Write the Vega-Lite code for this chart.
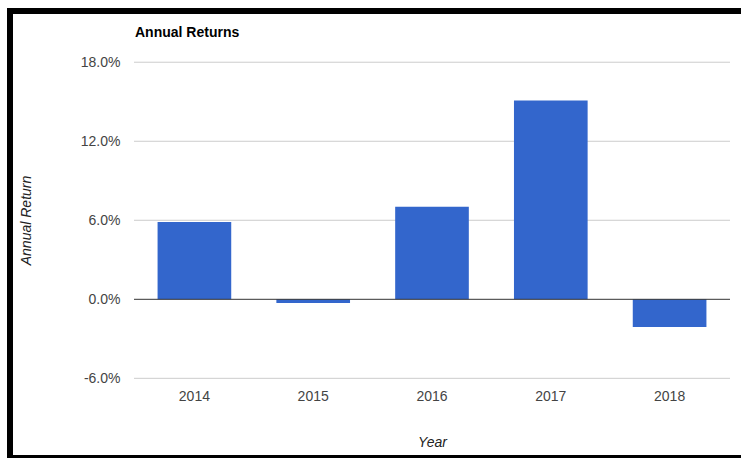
{
  "$schema": "https://vega.github.io/schema/vega-lite/v6.json",
  "autosize": "none",
  "padding": {"left": 10, "top": 11, "right": 0, "bottom": 0},
  "width": 734,
  "height": 447,
  "background": "white",
  "title": {
    "text": "Annual Returns",
    "anchor": "start",
    "frame": "group",
    "dx": 125,
    "offset": -40,
    "baseline": "alphabetic",
    "font": "Liberation Sans",
    "fontSize": 14,
    "fontWeight": "bold",
    "color": "#000000"
  },
  "datasets": {
    "returns": [
      {"year": "2014", "ret": 0.0587},
      {"year": "2015", "ret": -0.0028},
      {"year": "2016", "ret": 0.0703},
      {"year": "2017", "ret": 0.151},
      {"year": "2018", "ret": -0.021}
    ],
    "grid": [
      {"v": -0.06},
      {"v": 0.06},
      {"v": 0.12},
      {"v": 0.18}
    ]
  },
  "config": {
    "view": {"stroke": "#000000", "strokeWidth": 6},
    "font": "Liberation Sans"
  },
  "resolve": {"scale": {"x": "independent"}},
  "layer": [
    {
      "data": {"name": "grid"},
      "mark": {"type": "rule", "color": "#cccccc", "strokeWidth": 1},
      "encoding": {
        "x": {"datum": 0, "type": "quantitative", "scale": {"domain": [0, 1], "range": [124, 720]}, "axis": null},
        "x2": {"datum": 1},
        "y": {"field": "v", "type": "quantitative", "scale": {"domain": [-0.1205, 0.2189], "nice": false, "zero": false}}
      }
    },
    {
      "data": {"name": "returns"},
      "mark": {"type": "bar", "color": "#3366cc"},
      "encoding": {
        "x": {
          "field": "year",
          "type": "nominal",
          "scale": {"range": [125, 719], "paddingInner": 0.38, "paddingOuter": 0.19},
          "axis": {
            "title": "Year",
            "orient": "bottom",
            "offset": -80,
            "labelAngle": 0,
            "ticks": false,
            "domain": false,
            "grid": false,
            "labelPadding": 11,
            "labelFontSize": 14,
            "labelColor": "#444444",
            "labelFont": "Liberation Sans",
            "titleFont": "Liberation Sans",
            "titleFontSize": 14,
            "titleFontStyle": "italic",
            "titleFontWeight": "normal",
            "titleColor": "#222222",
            "titleBaseline": "alphabetic",
            "titleY": 68
          }
        },
        "y": {
          "field": "ret",
          "type": "quantitative",
          "scale": {"domain": [-0.1205, 0.2189], "nice": false, "zero": false},
          "axis": {
            "title": "Annual Return",
            "orient": "left",
            "offset": -124,
            "values": [-0.06, 0, 0.06, 0.12, 0.18],
            "format": ".1%",
            "labelExpr": "replace(format(datum.value, '.1%'), '\u2212', '-')",
            "ticks": false,
            "domain": false,
            "grid": false,
            "labelPadding": 14,
            "labelFontSize": 14,
            "labelColor": "#444444",
            "labelFont": "Liberation Sans",
            "titleFont": "Liberation Sans",
            "titleFontSize": 14,
            "titleFontStyle": "italic",
            "titleFontWeight": "normal",
            "titleColor": "#222222",
            "titleBaseline": "alphabetic",
            "titleAngle": -90,
            "titleAlign": "center",
            "titleX": -104,
            "titleY": 209
          }
        }
      }
    },
    {
      "data": {"values": [{}]},
      "mark": {"type": "rule", "color": "#333333", "strokeWidth": 1},
      "encoding": {
        "x": {"datum": 0, "type": "quantitative", "scale": {"domain": [0, 1], "range": [124, 720]}, "axis": null},
        "x2": {"datum": 1},
        "y": {"datum": 0, "type": "quantitative"}
      }
    }
  ]
}
